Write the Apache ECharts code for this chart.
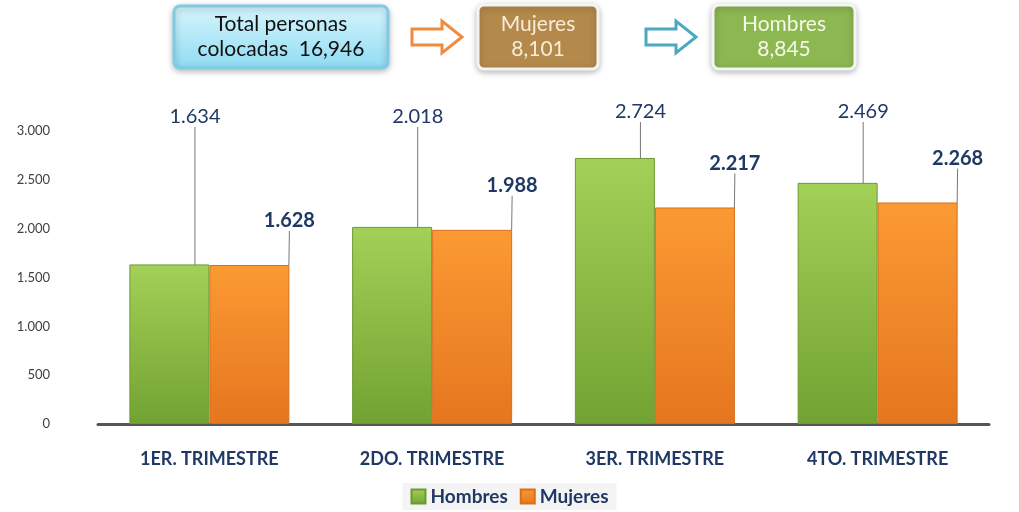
<!DOCTYPE html>
<html lang="es">
  <head>
    <meta charset="UTF-8" />
    <title>Personas colocadas</title>
    <script src="https://cdn.jsdelivr.net/npm/echarts@6/dist/echarts.min.js"></script>
    <style>
      html, body { margin: 0; padding: 0; background: #fff; }
      #main { width: 1019px; height: 512px; }
    </style>
  </head>
  <body>
    <div id="main"></div>
  </body>
  <script>
    // datos
    const trimestres = ["1ER. TRIMESTRE", "2DO. TRIMESTRE", "3ER. TRIMESTRE", "4TO. TRIMESTRE"];
    const hombres = [1634, 2018, 2724, 2469];
    const mujeres = [1628, 1988, 2217, 2268];
    const yTicks = [0, 500, 1000, 1500, 2000, 2500, 3000];
    const totales = { total: "16,946", mujeres: "8,101", hombres: "8,845" };

    const navy = "#1f3864";
    const fmt = (v) => String(v).replace(/\B(?=(\d{3})+(?!\d))/g, ".");

    var chartDom = document.getElementById("main");
    var myChart = echarts.init(chartDom);

    // cajas de arriba
    function box(x, y, w, h, fill, stroke, text, color) {
      return {
        type: "group",
        children: [
          {
            type: "rect",
            shape: { x: x, y: y, width: w, height: h, r: 6 },
            style: { fill: fill, stroke: stroke, lineWidth: 3, shadowBlur: 6, shadowColor: "rgba(0,0,0,0.25)", shadowOffsetY: 2 },
          },
          {
            type: "text",
            x: x + w / 2,
            y: y + h / 2,
            style: {
              text: text, fill: color, font: "21px Lato", align: "center",
              verticalAlign: "middle", lineHeight: 25,
            },
          },
        ],
      };
    }
    function arrow(x, y, color) {
      return {
        type: "polygon",
        shape: {
          points: [[x, y + 8], [x + 30, y + 8], [x + 30, y], [x + 50, y + 16],
                   [x + 30, y + 32], [x + 30, y + 24], [x, y + 24]],
        },
        style: { fill: "#fff", stroke: color, lineWidth: 3 },
      };
    }

    var option = {
      animation: false,
      textStyle: { fontFamily: "Lato" },
      graphic: [
        box(174, 6, 214, 62,
          new echarts.graphic.LinearGradient(0, 0, 0, 1, [
            { offset: 0, color: "#d8f5fd" }, { offset: 1, color: "#8fdcf2" },
          ]),
          "#7fcbe3", "Total personas\ncolocadas  " + totales.total, "#111"),
        arrow(412, 21, "#f08a3c"),
        box(478, 5, 120, 64, "#b38a4c", "#f4f4f4", "Mujeres\n" + totales.mujeres, "#f7ecd6"),
        arrow(646, 21, "#4aa9bf"),
        box(713, 5, 142, 64, "#8cb751", "#f4f4f4", "Hombres\n" + totales.hombres, "#f4fae8"),
      ],
      legend: {
        bottom: 2,
        left: "center",
        itemWidth: 14,
        itemHeight: 14,
        itemGap: 12,
        icon: "rect",
        backgroundColor: "#f4f4f4",
        padding: [4, 8],
        textStyle: { color: navy, fontSize: 19, fontWeight: "bold", fontFamily: "Lato" },
        data: ["Hombres", "Mujeres"],
      },
      grid: { left: 98, right: 30, top: 131, bottom: 88 },
      xAxis: {
        type: "category",
        data: trimestres,
        axisTick: { show: false },
        axisLine: { lineStyle: { color: "#555", width: 3 } },
        axisLabel: {
          margin: 26, color: navy, fontSize: 18, fontWeight: "bold", fontFamily: "Lato",
        },
      },
      yAxis: {
        type: "value",
        min: yTicks[0],
        max: yTicks[yTicks.length - 1],
        interval: yTicks[1] - yTicks[0],
        splitLine: { show: false },
        axisLine: { show: false },
        axisLabel: { margin: 48, color: "#404040", fontSize: 13, formatter: fmt },
      },
      series: [
        {
          name: "Hombres",
          type: "bar",
          data: hombres,
          barWidth: 80,
          barGap: "0%",
          itemStyle: {
            color: new echarts.graphic.LinearGradient(0, 0, 0, 1, [
              { offset: 0, color: "#a3d057" }, { offset: 1, color: "#72a232" },
            ]),
            borderColor: "#6e9a33",
            borderWidth: 1,
          },
          label: {
            show: true, position: "top", color: navy, fontSize: 20,
            formatter: (p) => fmt(p.value),
          },
          labelLayout: function (p) {
            return { y: p.dataIndex < 2 ? 107 : 102 };
          },
          labelLine: { show: true, lineStyle: { color: "#777", width: 1 } },
        },
        {
          name: "Mujeres",
          type: "bar",
          data: mujeres,
          barWidth: 80,
          itemStyle: {
            color: new echarts.graphic.LinearGradient(0, 0, 0, 1, [
              { offset: 0, color: "#fb9a33" }, { offset: 1, color: "#e5761f" },
            ]),
            borderColor: "#d86f1c",
            borderWidth: 1,
          },
          label: {
            show: true, position: "top", color: navy, fontSize: 20, fontWeight: "bold",
            formatter: (p) => fmt(p.value),
          },
          labelLayout: { dx: 40, dy: -29 },
          labelLine: { show: true, lineStyle: { color: "#777", width: 1 } },
        },
      ],
    };
    option && myChart.setOption(option);
  </script>
</html>
